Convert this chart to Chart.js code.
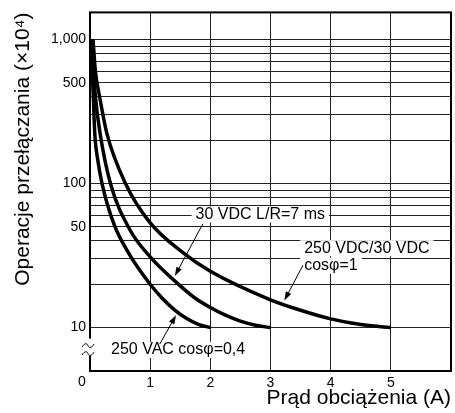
<!DOCTYPE html>
<html>
<head>
<meta charset="utf-8">
<script src="https://cdn.jsdelivr.net/npm/chart.js@4/dist/chart.umd.min.js"></script>
<style>
  html, body { margin: 0; padding: 0; background: #fff; }
  #wrap { width: 455px; height: 413px; }
</style>
</head>
<body>
<div id="wrap"><canvas id="myChart"></canvas></div>
<script>
// load current (A) vs. switching operations (x10^4)
const AC_X = [0.03, 0.04, 0.055, 0.08, 0.13, 0.2, 0.4, 0.66, 1.0, 1.2, 1.4, 1.6, 1.8, 2.0];
const AC_Y = [1000, 600, 400, 220, 145, 100, 52, 32, 20, 16, 13.35, 11.6, 10.55, 10];
const DC_IND_X = [0.04, 0.06, 0.09, 0.17, 0.34, 0.66, 1.0, 1.5, 1.75, 2.0, 2.25, 2.5, 2.75, 3.0];
const DC_IND_Y = [1000, 600, 400, 220, 100, 48, 31, 19.5, 16, 13.8, 12.2, 11.1, 10.4, 10];
const DC_RES_X = [0.05, 0.09, 0.16, 0.28, 0.59, 0.99, 1.55, 2.0, 3.0, 3.5, 4.0, 4.5, 5.0];
const DC_RES_Y = [1000, 600, 400, 223, 100, 54, 33, 24.6, 15.6, 13.2, 11.5, 10.5, 10];

const Y_GRID = [10, 20, 30, 40, 50, 60, 70, 80, 90, 100, 200, 300, 400, 500, 600, 700, 800, 900, 1000];
const Y_LABELS = [10, 50, 100, 500, 1000];
const X_LABELS = [1, 2, 3, 4, 5];

// notes and arrows, in data units
const NOTES = [
  { text: "30 VDC L/R=7 ms", x: 2.83, y: 61, align: "center", box: true },
  { text: "250 VDC/30 VDC", x: 3.56, y: 35.6, align: "left", box: true },
  { text: "cosφ=1", x: 3.56, y: 26.9, align: "left", box: true },
  { text: "250 VAC cosφ=0,4", x: 0.35, y: 7, align: "left", box: true },
];
const ARROWS = [
  { from: [1.876, 52.5], to: [1.41, 22.8] },
  { from: [1.16, 7.69], to: [1.43, 12.2] },
  { from: [3.54, 27.1], to: [3.23, 15.4] },
];

const FONT = "'Liberation Sans', Arial, Helvetica, sans-serif";

function points(xs, ys) {
  return xs.map((x, i) => ({ x: x, y: ys[i] }));
}

function drawArrow(ctx, x1, y1, x2, y2) {
  const a = Math.atan2(y2 - y1, x2 - x1);
  const len = 9, half = 3;
  ctx.beginPath();
  ctx.moveTo(x1, y1);
  ctx.lineTo(x2 - Math.cos(a) * len * 0.8, y2 - Math.sin(a) * len * 0.8);
  ctx.stroke();
  ctx.beginPath();
  ctx.moveTo(x2, y2);
  ctx.lineTo(x2 - Math.cos(a) * len - Math.sin(a) * half, y2 - Math.sin(a) * len + Math.cos(a) * half);
  ctx.lineTo(x2 - Math.cos(a) * len + Math.sin(a) * half, y2 - Math.sin(a) * len - Math.cos(a) * half);
  ctx.closePath();
  ctx.fill();
}

const notesPlugin = {
  id: "notes",
  afterDatasetsDraw(chart) {
    const ctx = chart.ctx;
    const xs = chart.scales.x, ys = chart.scales.y;
    ctx.save();
    ctx.font = "16px " + FONT;
    ctx.textBaseline = "middle";
    NOTES.forEach(n => {
      const px = xs.getPixelForValue(n.x), py = ys.getPixelForValue(n.y);
      const w = ctx.measureText(n.text).width;
      const left = n.align === "center" ? px - w / 2 : px;
      if (n.box) {
        ctx.fillStyle = "#fff";
        ctx.fillRect(left - 4, py - 8, w + 8, 16);
      }
      ctx.fillStyle = "#000";
      ctx.textAlign = "left";
      ctx.fillText(n.text, left, py);
    });
    ctx.strokeStyle = "#000";
    ctx.fillStyle = "#000";
    ctx.lineWidth = 1;
    ARROWS.forEach(a => {
      drawArrow(ctx,
        xs.getPixelForValue(a.from[0]), ys.getPixelForValue(a.from[1]),
        xs.getPixelForValue(a.to[0]), ys.getPixelForValue(a.to[1]));
    });
    ctx.restore();
  },
  afterDraw(chart) {
    const ctx = chart.ctx;
    const area = chart.chartArea;
    const xs = chart.scales.x, ys = chart.scales.y;
    ctx.save();
    // frame
    ctx.strokeStyle = "#000";
    ctx.lineWidth = 2;
    ctx.strokeRect(area.left, area.top, area.right - area.left, area.bottom - area.top);
    // axis break below 10
    const y10 = ys.getPixelForValue(10);
    ctx.fillStyle = "#fff";
    ctx.fillRect(area.left - 2, y10 + 11, 4, 17);
    ctx.lineWidth = 1;
    [y10 + 18, y10 + 26].forEach(y => {
      const x = area.left - 2;
      ctx.beginPath();
      ctx.moveTo(x - 6, y + 1.5);
      ctx.bezierCurveTo(x - 3, y - 3.5, x - 0.5, y - 2, x, y);
      ctx.bezierCurveTo(x + 0.5, y + 2, x + 3, y + 3.5, x + 6, y - 1.5);
      ctx.stroke();
    });
    // origin label
    ctx.fillStyle = "#000";
    ctx.font = "14px " + FONT;
    ctx.textAlign = "center";
    ctx.textBaseline = "top";
    ctx.fillText("0", area.left - 8, xs.top + 4);
    ctx.restore();
  }
};

const data = {
  datasets: [
    { label: "250 VAC cosφ=0,4", data: points(AC_X, AC_Y) },
    { label: "30 VDC L/R=7 ms", data: points(DC_IND_X, DC_IND_Y) },
    { label: "250 VDC/30 VDC cosφ=1", data: points(DC_RES_X, DC_RES_Y) },
  ].map(d => Object.assign(d, {
    borderColor: "#000",
    borderWidth: 3.5,
    pointRadius: 0,
    fill: false,
    cubicInterpolationMode: "monotone",
  })),
};

const config = {
  type: "line",
  data: data,
  options: {
    responsive: true,
    maintainAspectRatio: false,
    animation: false,
    layout: { padding: { top: 7, right: 2, left: 0, bottom: 0 } },
    plugins: {
      legend: { display: false },
      tooltip: { enabled: false },
    },
    scales: {
      x: {
        type: "linear",
        min: 0,
        max: 6,
        afterFit: s => { s.height = 42; },
        ticks: {
          stepSize: 1,
          autoSkip: false,
          maxRotation: 0,
          padding: 4,
          color: "#000",
          font: { family: FONT, size: 14 },
          callback: v => X_LABELS.includes(v) ? String(v) : "",
        },
        grid: { color: "#222", lineWidth: 1, drawTicks: false },
        border: { display: false },
        title: {
          display: true,
          text: "Prąd obciążenia (A)",
          align: "end",
          color: "#000",
          font: { family: FONT, size: 21 },
          padding: { top: 0, bottom: 2 },
        },
      },
      y: {
        type: "logarithmic",
        min: 5,
        max: 1540,
        afterFit: s => { s.width = 90; },
        afterBuildTicks: s => { s.ticks = Y_GRID.map(v => ({ value: v })); },
        ticks: {
          autoSkip: false,
          padding: 4,
          color: "#000",
          font: { family: FONT, size: 14 },
          callback: v => Y_LABELS.includes(v) ? v.toLocaleString("en-US") : "",
        },
        grid: { color: "#222", lineWidth: 1, drawTicks: false },
        border: { display: false },
        title: {
          display: true,
          text: "Operacje przełączania (×10⁴)",
          align: "end",
          color: "#000",
          font: { family: FONT, size: 21 },
          padding: { top: 11, bottom: 0 },
        },
      },
    },
  },
  plugins: [notesPlugin],
};

const myChart = new Chart(document.getElementById("myChart"), config);
</script>
</body>
</html>
